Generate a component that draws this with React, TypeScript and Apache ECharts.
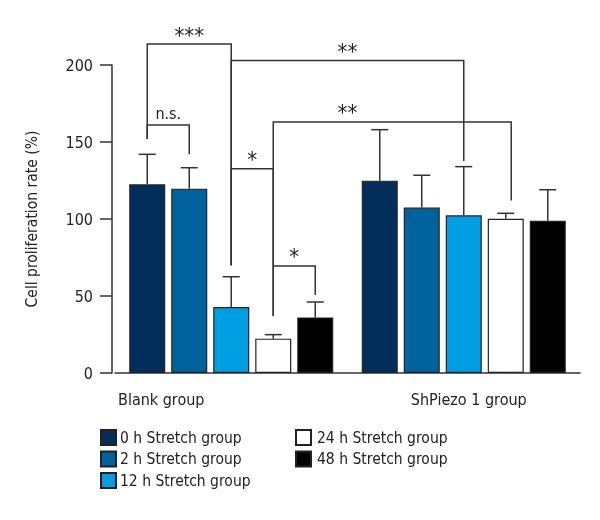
import React, { useEffect, useRef } from "react";
import * as echarts from "echarts";

const categories = ["Blank group", "ShPiezo 1 group"];
const seriesNames = [
  "0 h Stretch group",
  "2 h Stretch group",
  "12 h Stretch group",
  "24 h Stretch group",
  "48 h Stretch group",
];
const blankMeans = [122.5, 119.7, 42.9, 22.3, 36.1];
const blankUpper = [142, 133.3, 62.5, 24.9, 46.1];
const shMeans = [124.9, 107.4, 102.4, 100.2, 98.9];
const shUpper = [158, 128.4, 134, 103.7, 119];
const yTicks = [0, 50, 100, 150, 200];

// significance brackets: [category, bar position] for legs
const bracketTexts = ["***", "n.s.", "**", "*", "**", "*"];
const bracketFrom = [[0, 0], [0, 0], [0, 2], [0, 2], [0, 3], [0, 3]];
const bracketTo = [[0, 2], [0, 1], [1, 2], [0, 3], [1, 3.13], [0, 4]];
const bracketTop = [213.6, 161, 203, 132.7, 163, 69.5];
const bracketLeftBottom = [152, 152, 70, 70, 37, 69.5];
const bracketRightBottom = [70, 142, 137.7, 37, 112, 50.6];
const bracketLabelAt = [null, null, null, null, [0.5, 2], null];

const colors = ["#032d5b", "#00629c", "#009fe3", "#ffffff", "#000000"];
const FONT = "'Liberation Sans Narrow', 'DejaVu Sans Condensed', 'Arial Narrow', sans-serif";
const BAR_W = 36;
const PITCH = 42;
const LINE = "#333333";

export default function App() {
  const ref = useRef<HTMLDivElement>(null);
  useEffect(() => {
    const chart = echarts.init(ref.current!, null, { renderer: "svg" });

    const xAt = (api: any, cat: number, bar: number) => {
      const c0 = api.coord([0, 0])[0];
      const bw = api.size([1, 0])[0];
      return c0 + cat * bw + (bar - 2) * PITCH;
    };

    const barSeries = seriesNames.map((name, i) => ({
      name,
      type: "bar",
      data: [blankMeans[i], shMeans[i]],
      barWidth: BAR_W,
      barGap: "16.67%",
      itemStyle: { color: colors[i], borderColor: "#222", borderWidth: 1.2 },
      z: 2,
    }));

    const errData: number[][] = [];
    for (let i = 0; i < 5; i++) {
      errData.push([0, i, blankMeans[i], blankUpper[i]]);
      errData.push([1, i, shMeans[i], shUpper[i]]);
    }

    const bracketData = bracketTexts.map((_, i) => [0, i]);

    const legendText = { fontFamily: FONT, fontSize: 15.5, color: "#222", lineHeight: 21 };

    const option: any = {
      animation: false,
      grid: { left: 115, top: 65, width: 465, height: 308 },
      legend: [
        {
          orient: "vertical",
          left: 100,
          top: 427,
          padding: 0,
          itemWidth: 15,
          itemHeight: 15,
          itemGap: 0.5,
          icon: "rect",
          data: seriesNames.slice(0, 3),
          textStyle: { ...legendText, padding: [0, 0, 0, -1] },
        },
        {
          orient: "vertical",
          left: 295,
          top: 427,
          padding: 0,
          itemWidth: 15,
          itemHeight: 15,
          itemGap: 0.5,
          icon: "rect",
          data: seriesNames.slice(3),
          textStyle: { ...legendText, padding: [0, 0, 0, 1] },
        },
      ],
      xAxis: {
        type: "category",
        data: categories,
        axisLine: { lineStyle: { color: LINE, width: 1.5 } },
        axisTick: { alignWithLabel: true, length: 5, lineStyle: { color: LINE, width: 1.5 } },
        axisLabel: {
          margin: 18,
          formatter: (v: string) => (v === categories[0] ? "{a|" + v + "}" : "{b|" + v + "}"),
          rich: {
            a: { fontFamily: FONT, fontSize: 16, color: "#222", padding: [0, 140, 0, 0] },
            b: { fontFamily: FONT, fontSize: 16, color: "#222", padding: [0, 0, 0, 10] },
          },
        },
      },
      yAxis: {
        type: "value",
        min: yTicks[0],
        max: yTicks[yTicks.length - 1],
        interval: 50,
        offset: 3,
        name: "Cell proliferation rate (%)",
        nameLocation: "middle",
        nameGap: 72,
        nameTextStyle: { fontFamily: FONT, fontSize: 15.5, color: "#222" },
        axisLine: { show: true, lineStyle: { color: LINE, width: 1.5 } },
        axisTick: { show: true, length: 12, lineStyle: { color: LINE, width: 1.5 } },
        axisLabel: { margin: 19, fontFamily: FONT, fontSize: 16, color: "#222" },
        splitLine: { show: false },
      },
      series: [
        ...barSeries,
        {
          name: "errors",
          type: "custom",
          data: errData,
          clip: false,
          z: 3,
          encode: { x: 0, y: 2 },
          renderItem: (params: any, api: any) => {
            const cat = api.value(0);
            const bar = api.value(1);
            const x = xAt(api, cat, bar);
            const y1 = api.coord([cat, api.value(2)])[1];
            const y2 = api.coord([cat, api.value(3)])[1];
            const st = { stroke: LINE, lineWidth: 1.5 };
            return {
              type: "group",
              children: [
                { type: "line", shape: { x1: x, y1, x2: x, y2 }, style: st },
                { type: "line", shape: { x1: x - 8.5, y1: y2, x2: x + 8.5, y2 }, style: st },
              ],
            };
          },
        },
        {
          name: "brackets",
          type: "custom",
          data: bracketData,
          clip: false,
          z: 4,
          encode: { x: 0, y: 1 },
          renderItem: (params: any, api: any) => {
            const i = params.dataIndex;
            const f = bracketFrom[i];
            const t = bracketTo[i];
            const xl = xAt(api, f[0], f[1]);
            const xr = xAt(api, t[0], t[1]);
            const yt = api.coord([0, bracketTop[i]])[1];
            const yl = api.coord([0, bracketLeftBottom[i]])[1];
            const yr = api.coord([0, bracketRightBottom[i]])[1];
            const la = bracketLabelAt[i];
            const lx = la ? xAt(api, la[0], la[1]) : (xl + xr) / 2;
            const isStar = bracketTexts[i] !== "n.s.";
            return {
              type: "group",
              children: [
                {
                  type: "polyline",
                  shape: { points: [[xl, yl], [xl, yt], [xr, yt], [xr, yr]] },
                  style: { stroke: LINE, lineWidth: 1.5, fill: null },
                },
                {
                  type: "text",
                  x: lx,
                  y: isStar ? yt + 2 : yt - 4,
                  style: {
                    text: bracketTexts[i],
                    fontFamily: FONT,
                    fontSize: isStar ? 22 : 16,
                    fill: "#222",
                    align: "center",
                    verticalAlign: "bottom",
                  },
                },
              ],
            };
          },
        },
      ],
    };
    chart.setOption(option);
    return () => chart.dispose();
  }, []);
  return <div ref={ref} style={{ position: "fixed", left: 0, top: 0, width: 600, height: 520 }} />;
}
